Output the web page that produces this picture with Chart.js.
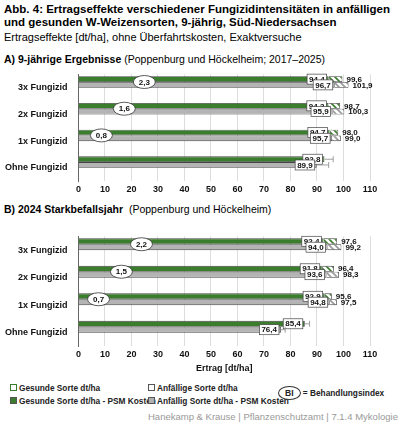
<!DOCTYPE html>
<html><head><meta charset="utf-8">
<script src="https://cdn.jsdelivr.net/npm/chart.js@4"></script>
<style>
body{margin:0;width:400px;height:434px;background:#fff;font-family:"Liberation Sans",Arial,sans-serif;position:relative;overflow:hidden}
.t{position:absolute;left:4px;font-weight:bold;font-size:11.5px;line-height:13px;top:3px;width:395px}
.s{position:absolute;left:4px;top:31px;font-size:11px}
.h{position:absolute;left:4px;font-size:10.5px}
canvas{position:absolute;left:0}
.lg{position:absolute;font-size:8.3px;font-weight:bold;color:#222;white-space:nowrap}
.sq{display:inline-block;width:5px;height:5px;border:1px solid #555;margin-right:2px;vertical-align:0}
</style></head><body>
<div class="t">Abb. 4: Ertragseffekte verschiedener Fungizidintensitäten in anfälligen und gesunden W-Weizensorten, 9-jährig, Süd-Niedersachsen</div>
<div class="s">Ertragseffekte [dt/ha], ohne Überfahrtskosten, Exaktversuche</div>
<div class="h" style="top:53px"><b>A) 9-jährige Ergebnisse</b> (Poppenburg und Höckelheim; 2017–2025)</div>
<div class="h" style="top:203px"><b>B) 2024 Starkbefallsjahr</b> &nbsp;(Poppenburg und Höckelheim)</div>
<div style="position:absolute;left:0;top:66px;width:400px;height:132px"><canvas id="c1"></canvas></div>
<div style="position:absolute;left:0;top:228px;width:400px;height:146px"><canvas id="c2"></canvas></div>
<div class="lg" style="left:10px;top:383px"><span class="sq" style="background:#fff;border-color:#3a7d2c"></span>Gesunde Sorte dt/ha</div>
<div class="lg" style="left:10px;top:396px"><span class="sq" style="background:#3a7d2c"></span>Gesunde Sorte dt/ha - PSM Kosten</div>
<div class="lg" style="left:148px;top:383px"><span class="sq" style="background:#fff"></span>Anfällige Sorte dt/ha</div>
<div class="lg" style="left:148px;top:396px"><span class="sq" style="background:#b0b0b0"></span>Anfällig Sorte dt/ha - PSM Kosten</div>
<div class="lg" style="left:278px;top:386px"><span style="display:inline-block;border:1px solid #333;border-radius:50%;padding:1px 6px;font-size:8.5px">BI</span> = Behandlungsindex</div>
<div style="position:absolute;left:148px;top:411px;font-size:9.5px;color:#999;white-space:nowrap">Hanekamp &amp; Krause | Pflanzenschutzamt | 7.1.4 Mykologie</div>
<script>
const categories=["3x Fungizid","2x Fungizid","1x Fungizid","Ohne Fungizid"];
const tickMax=110;
const gesundNetA=[94.4,94.3,94.7,92.8], gesundA=[99.6,98.7,98.0,92.8];
const anfNetA=[96.7,95.9,95.7,89.9], anfA=[101.9,100.3,99.0,89.9];
const biA=[2.3,1.6,0.8,null];
const errA=[3.3,4.5];
const gesundNetB=[92.4,91.8,92.9,85.4], gesundB=[97.6,96.4,95.6,85.4];
const anfNetB=[94.0,93.6,94.8,76.4], anfB=[99.2,98.3,97.5,76.4];
const biB=[2.2,1.5,0.7,null];
const errB=[1.8,1.6];
const GREEN="#3a7d2c", GRAY="#b4b4b4";
function hatch(c){const p=document.createElement('canvas');p.width=p.height=6;const x=p.getContext('2d');x.fillStyle='#fff';x.fillRect(0,0,6,6);x.strokeStyle=c;x.lineWidth=1.6;x.beginPath();x.moveTo(0,0);x.lineTo(6,6);x.moveTo(-3,3);x.lineTo(3,9);x.moveTo(3,-3);x.lineTo(9,3);x.stroke();return x.createPattern(p,'repeat');}
const fmt=v=>v.toFixed(1).replace('.',',');
function make(id,gn,g,an,a,bi,err,showTitle){
 const ctx=document.getElementById(id).getContext('2d');
 const lab={id:'lab',afterDatasetsDraw(ch){
  const c=ch.ctx,xs=ch.scales.x;c.save();c.font='bold 8px "Liberation Sans",Arial';c.textBaseline='middle';
  [[0,gn,g],[1,an,a]].forEach(([di,net,gr],k)=>{
   ch.getDatasetMeta(di).data.forEach((b,i)=>{
    const y=b.y,x=xs.getPixelForValue(net[i]),t=fmt(net[i]),w=c.measureText(t).width+4;
    c.fillStyle='#fff';c.strokeStyle='#444';c.lineWidth=0.7;c.fillRect(x-w-2,y-5,w,10);c.strokeRect(x-w-2,y-5,w,10);
    c.fillStyle='#111';c.textAlign='left';c.fillText(t,x-w,y+0.5);
    if(gr[i]>net[i]+0.01){c.fillText(fmt(gr[i]),xs.getPixelForValue(gr[i])+4,y+0.5);}
    else{const e=err[k],x1=xs.getPixelForValue(net[i]+e);c.strokeStyle='#888';c.lineWidth=0.8;c.beginPath();c.moveTo(x,y);c.lineTo(x1,y);c.moveTo(x1,y-3);c.lineTo(x1,y+3);c.stroke();}
   });
  });
  ch.getDatasetMeta(0).data.forEach((b,i)=>{ if(bi[i]==null)return;
   const x=xs.getPixelForValue(bi[i]*10.8),y=(b.y+ch.getDatasetMeta(1).data[i].y)/2;
   c.fillStyle='#fff';c.strokeStyle='#333';c.lineWidth=0.8;c.beginPath();c.ellipse(x,y,11,6.5,0,0,Math.PI*2);c.fill();c.stroke();
   c.fillStyle='#111';c.textAlign='center';c.fillText(fmt(bi[i]),x,y+0.5);});
  c.restore();}};
 const ds=(d,col,st)=>({data:d,backgroundColor:col,borderColor:'#444',borderWidth:{top:0.8,bottom:0.8,left:0,right:0.8},borderSkipped:false,stack:st,categoryPercentage:0.86,barPercentage:1});
 new Chart(ctx,{type:'bar',data:{labels:categories,datasets:[
  ds(gn,GREEN,'g'),ds(an,GRAY,'s'),
  ds(g.map((v,i)=>v-gn[i]),hatch(GREEN),'g'),ds(a.map((v,i)=>v-an[i]),hatch('#999'),'s')]},
 options:{indexAxis:'y',responsive:true,maintainAspectRatio:false,animation:false,
  layout:{padding:{right:30,left:2}},
  plugins:{legend:{display:false},tooltip:{enabled:false}},
  scales:{x:{stacked:true,min:0,max:tickMax,ticks:{stepSize:10,color:'#111',font:{size:9,weight:'bold'}},grid:{color:'#ddd',drawTicks:false},border:{display:false},
   title:{display:showTitle,text:'Ertrag [dt/ha]',color:'#111',font:{size:9,weight:'bold'},padding:0}},
   y:{stacked:false,ticks:{color:'#111',font:{size:9,weight:'bold'}},grid:{display:false},border:{color:'#666'}}}},
 plugins:[lab]});
}
make('c1',gesundNetA,gesundA,anfNetA,anfA,biA,errA,false);
make('c2',gesundNetB,gesundB,anfNetB,anfB,biB,errB,true);
</script></body></html>
